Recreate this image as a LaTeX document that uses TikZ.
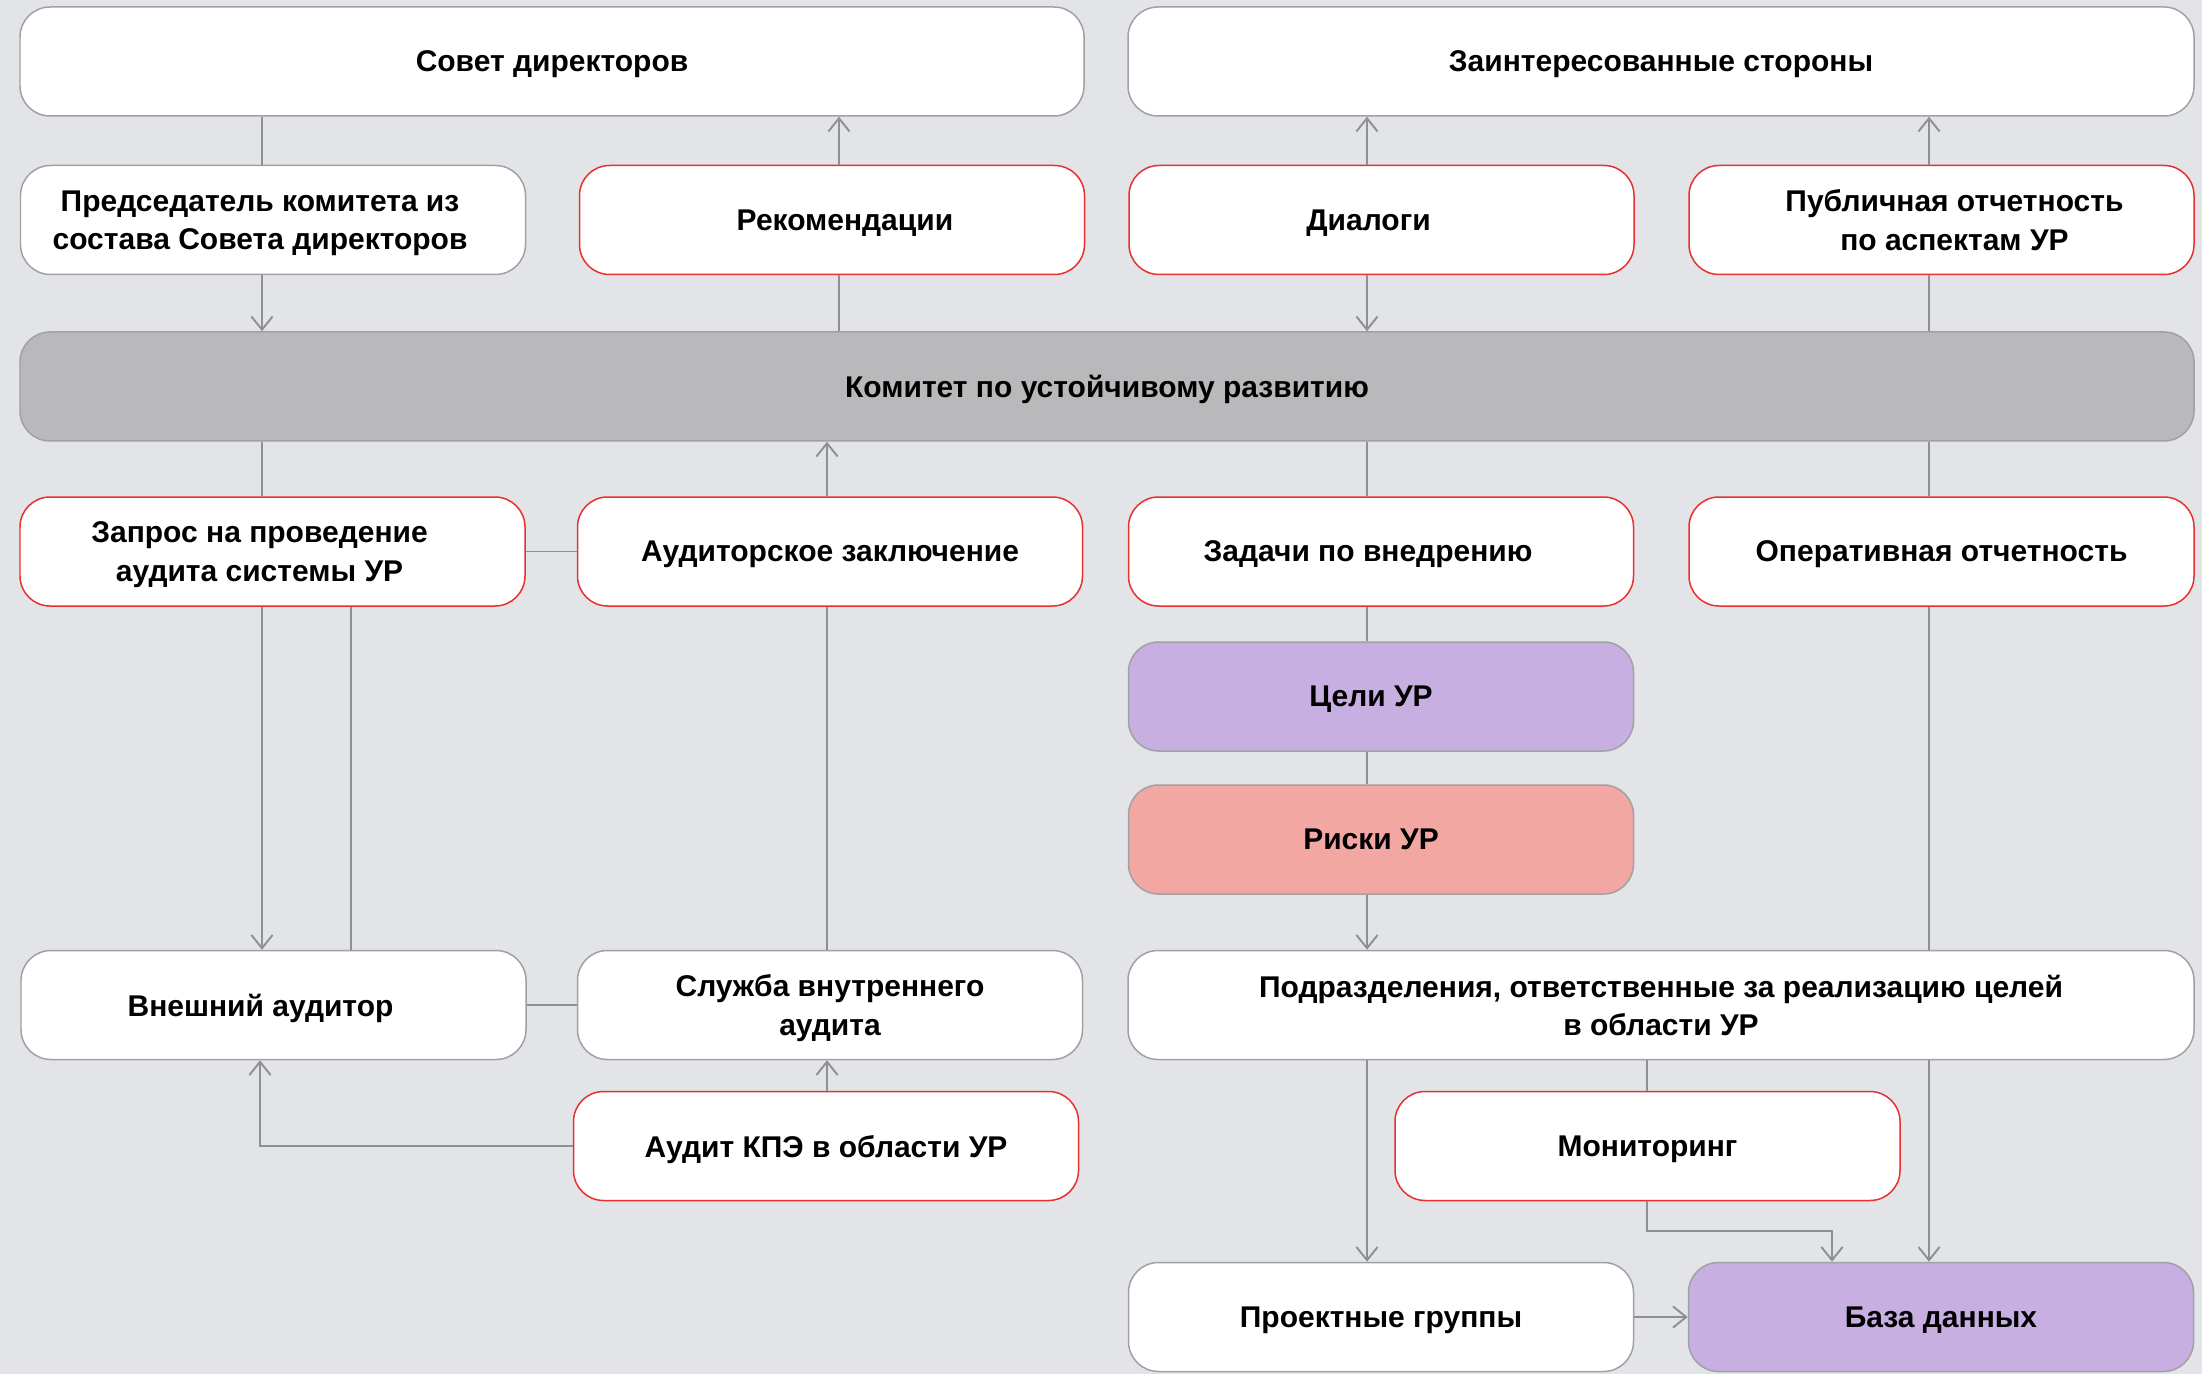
\documentclass[tikz,border=0pt]{standalone}
\usepackage{fontspec}
\setmainfont{Liberation Sans}
\usetikzlibrary{arrows.meta}
\definecolor{bg}{HTML}{E3E4E8}
\definecolor{grayline}{HTML}{8F9094}
\definecolor{grayborder}{HTML}{A0A1A5}
\definecolor{redborder}{HTML}{E8302E}
\definecolor{komfill}{HTML}{B9B9BC}
\definecolor{lilac}{HTML}{C8AFE2}
\definecolor{pinkfill}{HTML}{F3A7A2}
\def\pxu{0.5669pt}
\def\mypad{\hbox to 14.7pt{}}
\def\mypadc{\hbox to 11.3pt{}}
\tikzset{
  box/.style={draw=grayborder, fill=white, rounded corners=17pt, line width=0.85pt,
    align=center, font=\fontsize{17}{21.7}\selectfont\bfseries, inner sep=0pt, text=black,
    text depth=0pt, minimum height={109*\pxu}},
  redbox/.style={box, draw=redborder},
  wS/.style={minimum width={505*\pxu}},
  wL/.style={minimum width={1066*\pxu}},
  conn/.style={draw=grayline, line width=1.1pt},
  arr/.style={conn, -{Straight Barb[length=7.5pt,width=12pt,line width=1.1pt]}}
}
\begin{document}
\begin{tikzpicture}[x=0.5669pt, y=-0.5669pt]
\useasboundingbox[fill=bg] (0,0) rectangle (2202,1374);

% columns
\coordinate (c1) at (262,0);
\coordinate (c2) at (839,0);
\coordinate (c3) at (827,0);
\coordinate (c5) at (351,0);
\coordinate (c6) at (1367,0);
\coordinate (c7) at (1929,0);
\coordinate (c8) at (1647,0);
\coordinate (c9) at (1832,0);
\coordinate (c10) at (260,0);

% nodes
\node[box, minimum width={1064*\pxu}] (sovet) at (552,61.5) {Совет директоров};
\node[box, wL] (zainter) at (1661,61.5) {Заинтересованные стороны};

\node[box, wS] (pred) at (273,220) {Председатель комитета из\mypad\\состава Совета директоров\mypad};
\node[redbox, wS] (rekom) at (832,220) {\mypad Рекомендации};
\node[redbox, wS] (dialogi) at (1381.5,220) {Диалоги\mypad};
\node[redbox, wS] (publ) at (1941.5,220) {\mypad Публичная отчетность\\\mypad по аспектам УР};

\node[box, fill=komfill, minimum width={2174*\pxu}] (komitet) at (1107,386.5) {Комитет по устойчивому развитию};

\node[redbox, wS] (zapros) at (272.5,551.5) {Запрос на проведение\mypad\\аудита системы УР\mypad};
\node[redbox, wS] (audzakl) at (830,551.5) {Аудиторское заключение};
\node[redbox, wS] (zadachi) at (1381,551.5) {Задачи по внедрению\mypad};
\node[redbox, wS] (operat) at (1941.5,551.5) {Оперативная отчетность};

\node[box, wS, fill=lilac] (celi) at (1381,696.5) {Цели УР\mypadc};
\node[box, wS, fill=pinkfill] (riski) at (1381,839.5) {Риски УР\mypadc};

\node[box, wS] (vnesh) at (273.5,1005) {Внешний аудитор\mypad};
\node[box, wS] (sluzhba) at (830,1005) {Служба внутреннего\\аудита};
\node[box, wL] (podrazd) at (1661,1005) {Подразделения, ответственные за реализацию целей\\в области УР};

\node[redbox, wS] (auditkpe) at (826,1146) {Аудит КПЭ в области УР};
\node[redbox, wS] (monitor) at (1647.5,1146) {Мониторинг};

\node[box, wS] (proekt) at (1381,1317) {Проектные группы};
\node[box, wS, fill=lilac] (baza) at (1941,1317) {База данных};

% connectors
\draw[conn] (sovet.south -| c1) -- (pred.north -| c1);
\draw[arr] (pred.south -| c1) -- (komitet.north -| c1);
\draw[conn] (komitet.north -| c2) -- (rekom.south -| c2);
\draw[arr] (rekom.north -| c2) -- (sovet.south -| c2);
\draw[arr] (dialogi.north -| c6) -- (zainter.south -| c6);
\draw[arr] (dialogi.south -| c6) -- (komitet.north -| c6);
\draw[arr] (publ.north -| c7) -- (zainter.south -| c7);
\draw[conn] (komitet.north -| c7) -- (publ.south -| c7);

\draw[conn] (komitet.south -| c1) -- (zapros.north -| c1);
\draw[arr] (audzakl.north -| c3) -- (komitet.south -| c3);
\draw[conn] (zapros.east) -- (audzakl.west);
\draw[conn] (komitet.south -| c6) -- (zadachi.north -| c6);
\draw[conn] (komitet.south -| c7) -- (operat.north -| c7);

\draw[arr] (zapros.south -| c1) -- (vnesh.north -| c1);
\draw[conn] (vnesh.north -| c5) -- (zapros.south -| c5);
\draw[conn] (sluzhba.north -| c3) -- (audzakl.south -| c3);
\draw[conn] (vnesh.east) -- (sluzhba.west);
\draw[arr] (auditkpe.north -| c3) -- (sluzhba.south -| c3);
\draw[arr] (auditkpe.west) -| (vnesh.south -| c10);

\draw[conn] (zadachi.south -| c6) -- (celi.north -| c6);
\draw[conn] (celi.south -| c6) -- (riski.north -| c6);
\draw[arr] (riski.south -| c6) -- (podrazd.north -| c6);
\draw[conn] (operat.south -| c7) -- (podrazd.north -| c7);

\draw[arr] (podrazd.south -| c6) -- (proekt.north -| c6);
\draw[conn] (podrazd.south -| c8) -- (monitor.north -| c8);
\draw[arr] (monitor.south -| c8) -- ++(0,30) -| (baza.north -| c9);
\draw[arr] (podrazd.south -| c7) -- (baza.north -| c7);
\draw[arr] (proekt.east) -- (baza.west);
\end{tikzpicture}
\end{document}
